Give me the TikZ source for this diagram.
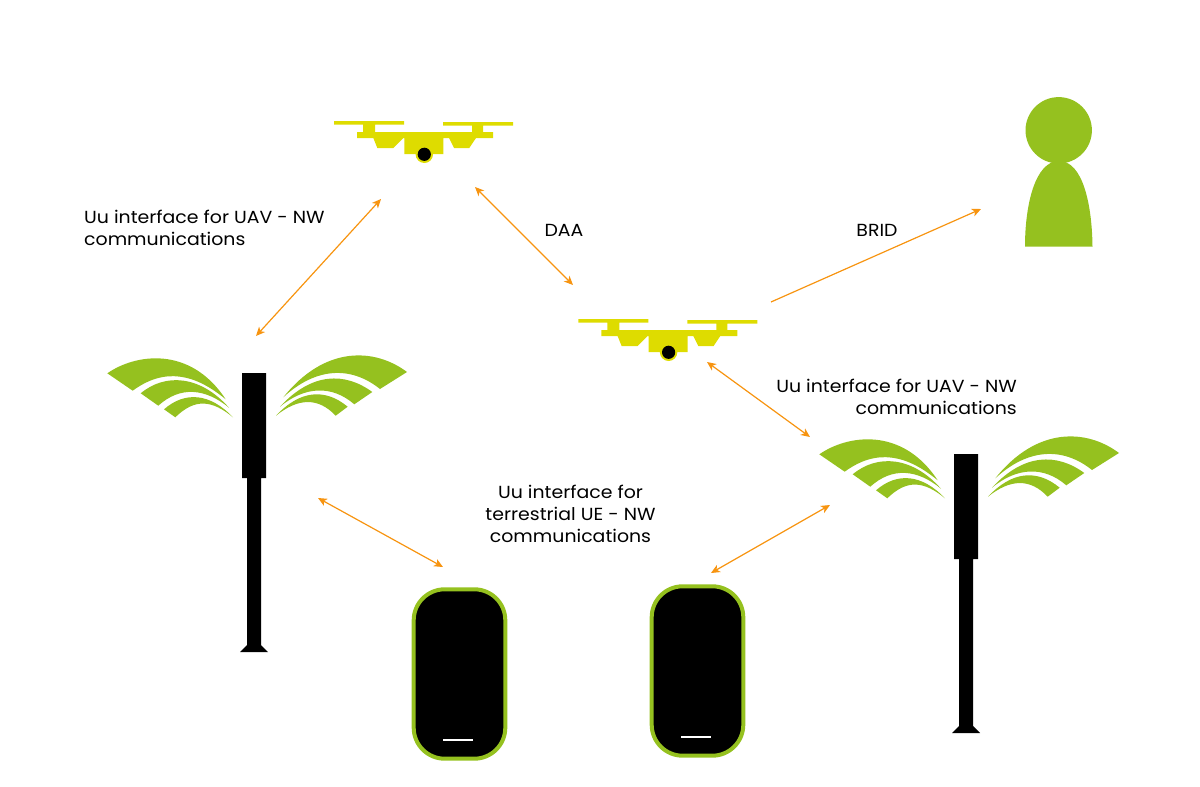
\documentclass[tikz,border=0pt]{standalone}
\usepackage{fontspec}
\setmainfont[FakeStretch=1.08]{Poppins}
\usetikzlibrary{arrows.meta}
\definecolor{leaf}{HTML}{95C11F}
\definecolor{dronecol}{HTML}{DEDC00}
\definecolor{linkcol}{HTML}{F79410}
\tikzset{
  every picture/.style={x=1pt,y=-1pt},
  linkboth/.style={draw=linkcol,line width=1.2pt,{Stealth[length=9pt,width=8pt,inset=2.5pt]}-{Stealth[length=9pt,width=8pt,inset=2.5pt]}},
  linkone/.style={draw=linkcol,line width=1.2pt,-{Stealth[length=9pt,width=8pt,inset=2.5pt]}},
  lab/.style={font=\fontsize{17.5}{22}\selectfont,text=black,inner sep=0pt},
  pics/drone/.style={code={
    \fill[dronecol] (334,121)--(404,121)--(404,124.5)--(375,124.5)--(375,132)--(472,132)--(472,125.5)--(443,125.5)--(443,122)--(513,122)--(513,125.5)--(483,125.5)--(483,132)--(493,132)--(493,138)--(476,138)--(469.3,148)--(454,148)--(449,138)--(443.3,138)--(443.3,154)--(404.3,154)--(404.3,138)--(403.3,138)--(393.3,148)--(377.3,148)--(373.3,138)--(357,138)--(357,132)--(363,132)--(363,124.5)--(334,124.5)--cycle;
    \fill[dronecol] (424.3,154.3) circle (8.7);
    \fill[black] (424.3,154.3) circle (6.6);
  }},
  pics/mast/.style={code={
    \fill[black] (242,373)--(266,373)--(266,478)--(261,478)--(261,645)--(268,652)--(240,652)--(247,645)--(247,478)--(242,478)--cycle;
    \fill[leaf] (107.3,373.3) .. controls (135,354) and (190,345) .. (225.7,399.3) .. controls (195,374) and (165,367) .. (132.7,390.7) -- cycle;
    \fill[leaf] (140.7,393.3) .. controls (165,373) and (200,375) .. (229,407.7) .. controls (205,388) and (180,386) .. (158.3,405.7) -- cycle;
    \fill[leaf] (164,409.3) .. controls (185,391) and (210,393) .. (233,417.3) .. controls (212,400) and (195,398) .. (175.3,417.3) -- cycle;
    \fill[leaf] (407,372) .. controls (375,348) and (325,345) .. (283.3,397.3) .. controls (315,368) and (350,365) .. (380,389) -- cycle;
    \fill[leaf] (372.3,392) .. controls (345,372) and (312,372) .. (280,406.7) .. controls (305,386) and (332,385) .. (354.3,404.3) -- cycle;
    \fill[leaf] (347.7,406.7) .. controls (325,388) and (300,390) .. (276,415.7) .. controls (298,398) and (318,397) .. (335.7,415.7) -- cycle;
  }},
  pics/phone/.style={code={
    \draw[fill=black,draw=leaf,line width=4pt,rounded corners=31pt] (413.7,589.3) rectangle (505.3,758.7);
    \draw[white,line width=2.5pt] (443,740)--(473,740);
  }}
}
\begin{document}
\begin{tikzpicture}
\useasboundingbox (0,0) rectangle (1200,787);
\pic {drone};
\pic at (244.3,198) {drone};
\pic {mast};
\pic at (712,81) {mast};
\pic {phone};
\pic at (238,-3) {phone};
% person
\fill[leaf] (1058.7,130.3) circle (33.2);
\fill[leaf] (1025,246.5) .. controls (1025,205) and (1035,161) .. (1059,161) .. controls (1083,161) and (1092,205) .. (1092.5,246.5) -- cycle;
% anchors
\coordinate (a1) at (381,199); \coordinate (b1) at (256,336);
\coordinate (a2) at (475,187); \coordinate (b2) at (573,285);
\coordinate (a3) at (771,302); \coordinate (b3) at (981,209);
\coordinate (a4) at (707,362); \coordinate (b4) at (810,437);
\coordinate (a5) at (318,498); \coordinate (b5) at (443,567);
\coordinate (a6) at (711,573); \coordinate (b6) at (830,505);
\draw[linkboth] (a1)--(b1);
\draw[linkboth] (a2)--(b2);
\draw[linkone] (a3)--(b3);
\draw[linkboth] (a4)--(b4);
\draw[linkboth] (a5)--(b5);
\draw[linkboth] (a6)--(b6);
% labels
\node[lab,anchor=west,align=left] (t1) at (84,228) {Uu interface for UAV - NW\\communications};
\node[lab,anchor=center] (t2) at (564,230) {DAA};
\node[lab,anchor=center] (t3) at (877,230) {BRID};
\node[lab,anchor=east,align=right] (t4) at (1017,397) {Uu interface for UAV - NW\\communications};
\node[lab,anchor=center,align=center] (t5) at (570.5,514) {Uu interface for\\terrestrial UE - NW\\communications};
\end{tikzpicture}
\end{document}
